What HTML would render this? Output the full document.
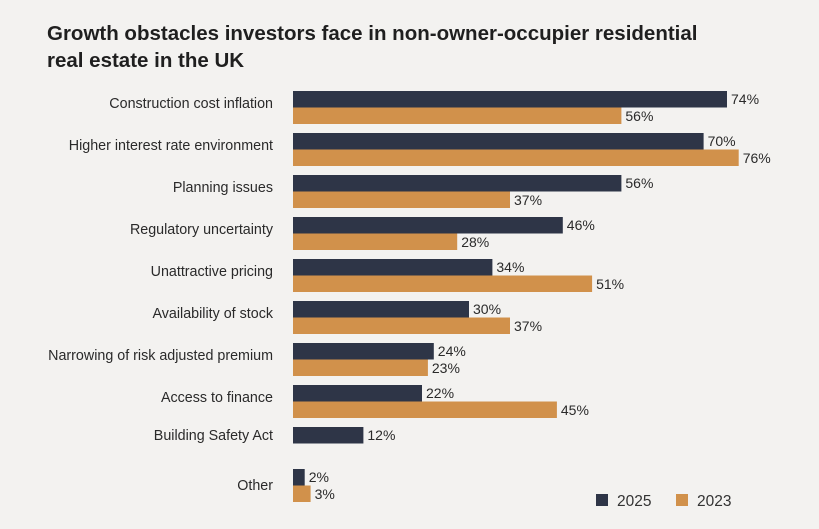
<!DOCTYPE html>
<html><head><style>
body{margin:0;background:#f3f2f0;}
svg{display:block;font-family:"Liberation Sans",sans-serif;}
</style></head><body>
<svg width="819" height="529" xmlns="http://www.w3.org/2000/svg">
<rect width="819" height="529" fill="#f3f2f0"/>
<text x="47" y="40" font-size="20.5" font-weight="bold" fill="#1f1f1f">Growth obstacles investors face in non-owner-occupier residential</text>
<text x="47" y="67" font-size="20.5" font-weight="bold" fill="#1f1f1f">real estate in the UK</text>
<g font-size="14.3" fill="#2a2a2a">
<g text-anchor="end">
<text x="273" y="108">Construction cost inflation</text>
<text x="273" y="150">Higher interest rate environment</text>
<text x="273" y="192">Planning issues</text>
<text x="273" y="234">Regulatory uncertainty</text>
<text x="273" y="276">Unattractive pricing</text>
<text x="273" y="318">Availability of stock</text>
<text x="273" y="360">Narrowing of risk adjusted premium</text>
<text x="273" y="402">Access to finance</text>
<text x="273" y="440">Building Safety Act</text>
<text x="273" y="490">Other</text>
</g>
</g>
<g fill="#2e3547">
<rect x="293" y="91" width="434" height="16.5"/>
<rect x="293" y="133" width="410.6" height="16.5"/>
<rect x="293" y="175" width="328.4" height="16.5"/>
<rect x="293" y="217" width="269.8" height="16.5"/>
<rect x="293" y="259" width="199.4" height="16.5"/>
<rect x="293" y="301" width="176" height="16.5"/>
<rect x="293" y="343" width="140.8" height="16.5"/>
<rect x="293" y="385" width="129" height="16.5"/>
<rect x="293" y="427" width="70.4" height="16.5"/>
<rect x="293" y="469" width="11.7" height="16.5"/>
</g>
<g fill="#d1914b">
<rect x="293" y="107.5" width="328.4" height="16.5"/>
<rect x="293" y="149.5" width="445.7" height="16.5"/>
<rect x="293" y="191.5" width="217" height="16.5"/>
<rect x="293" y="233.5" width="164.2" height="16.5"/>
<rect x="293" y="275.5" width="299.1" height="16.5"/>
<rect x="293" y="317.5" width="217" height="16.5"/>
<rect x="293" y="359.5" width="134.9" height="16.5"/>
<rect x="293" y="401.5" width="263.9" height="16.5"/>
<rect x="293" y="485.5" width="17.6" height="16.5"/>
</g>
<g font-size="14" fill="#2a2a2a">
<text x="731" y="104">74%</text><text x="625.4" y="121">56%</text>
<text x="707.6" y="146">70%</text><text x="742.7" y="163">76%</text>
<text x="625.4" y="188">56%</text><text x="514" y="205">37%</text>
<text x="566.8" y="230">46%</text><text x="461.2" y="247">28%</text>
<text x="496.4" y="272">34%</text><text x="596.1" y="289">51%</text>
<text x="473" y="314">30%</text><text x="514" y="331">37%</text>
<text x="437.8" y="356">24%</text><text x="431.9" y="373">23%</text>
<text x="426" y="398">22%</text><text x="560.9" y="415">45%</text>
<text x="367.4" y="440">12%</text>
<text x="308.7" y="482">2%</text><text x="314.6" y="499">3%</text>
</g>
<g font-size="15.5" fill="#333">
<rect x="596" y="494" width="12" height="12" fill="#2e3547"/><text x="617" y="506">2025</text>
<rect x="676" y="494" width="12" height="12" fill="#d1914b"/><text x="697" y="506">2023</text>
</g>
</svg>
</body></html>
